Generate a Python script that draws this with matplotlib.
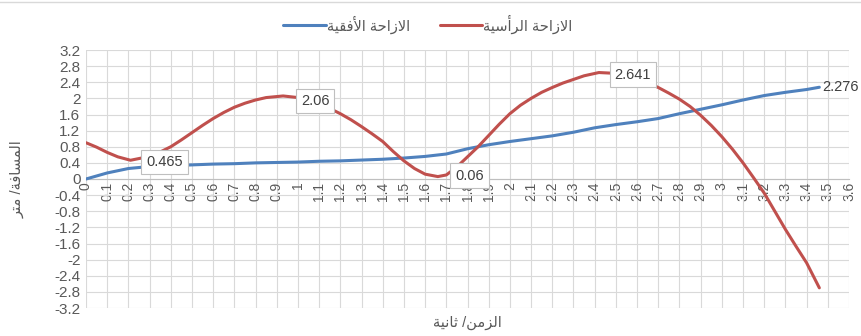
import numpy as np;
import matplotlib;
matplotlib.use('Agg');
import matplotlib.pyplot as plt;

FONT_SMALL = 10;
FONT_MEDIUM = 10.5;
FONT_BIG = 11;

WDTH = 861;
HGHT = 336;

GRAY_TXT = '#595959';
GRID_CLR = '#d9d9d9';
BLUE = '#4f81bd';
RED = '#c0504d';

# --- data ---
t_h = [0, 0.1, 0.2, 0.3, 0.4, 0.5, 0.6, 0.7, 0.8, 0.9, 1.0, 1.1, 1.2, 1.3, 1.4, 1.5, 1.6, 1.7,
       1.8, 1.9, 2.0, 2.1, 2.2, 2.3, 2.4, 2.5, 2.6, 2.7, 2.8, 2.9, 3.0, 3.1, 3.2, 3.3, 3.4, 3.46];
x_disp = [0, 0.15, 0.26, 0.31, 0.33, 0.35, 0.37, 0.38, 0.40, 0.41, 0.42, 0.44, 0.45, 0.47, 0.49, 0.52, 0.56, 0.62,
          0.75, 0.85, 0.93, 1.00, 1.07, 1.16, 1.27, 1.35, 1.42, 1.50, 1.62, 1.73, 1.84, 1.96, 2.07, 2.15, 2.22, 2.276];

t_v = [0, 0.05, 0.1, 0.15, 0.21, 0.3, 0.35, 0.4, 0.45, 0.5, 0.55, 0.6, 0.65, 0.7, 0.75, 0.8, 0.85, 0.93,
       1.0, 1.05, 1.1, 1.15, 1.2, 1.25, 1.3, 1.35, 1.4, 1.45, 1.5, 1.55, 1.6, 1.66, 1.7, 1.75,
       1.8, 1.85, 1.9, 1.95, 2.0, 2.05, 2.1, 2.15, 2.2, 2.25, 2.3, 2.35, 2.42, 2.5, 2.55, 2.6, 2.65,
       2.7, 2.75, 2.8, 2.85, 2.9, 2.95, 3.0, 3.05, 3.1, 3.15, 3.2, 3.25, 3.3, 3.35, 3.4, 3.46];
y_disp = [0.90, 0.79, 0.66, 0.55, 0.465, 0.56, 0.67, 0.80, 0.97, 1.15, 1.33, 1.50, 1.65, 1.78, 1.88, 1.96, 2.02, 2.06,
          2.02, 1.95, 1.86, 1.75, 1.62, 1.47, 1.30, 1.12, 0.93, 0.68, 0.45, 0.26, 0.12, 0.06, 0.10, 0.30,
          0.55, 0.80, 1.08, 1.36, 1.62, 1.83, 2.00, 2.15, 2.27, 2.38, 2.47, 2.56, 2.641, 2.62, 2.57, 2.50, 2.40,
          2.27, 2.13, 1.98, 1.80, 1.58, 1.33, 1.05, 0.74, 0.40, 0.03, -0.35, -0.80, -1.25, -1.67, -2.08, -2.70];

# labelled points (index into y_disp) and callout offsets in pixels
lbl_idx = [4, 17, 31, 46];
lbl_off = [(34, -2), (32, -5), (32, 1), (34, -2)];

x_ticks = [round(0.1 * i, 1) for i in range(37)];
x_tick_lbls = ['%g' % v for v in x_ticks];
y_ticks = [round(-3.2 + 0.4 * i, 1) for i in range(17)];
y_tick_lbls = ['%g' % v for v in y_ticks];

# --- minimal arabic shaping (matplotlib has no complex text layout) ---
FORMS = {
    'ا': ('\uFE8D', '\uFE8E', None, None),
    'أ': ('\uFE83', '\uFE84', None, None),
    'ة': ('\uFE93', '\uFE94', None, None),
    'ر': ('\uFEAD', '\uFEAE', None, None),
    'ز': ('\uFEAF', '\uFEB0', None, None),
    'ت': ('\uFE95', '\uFE96', '\uFE97', '\uFE98'),
    'ث': ('\uFE99', '\uFE9A', '\uFE9B', '\uFE9C'),
    'ح': ('\uFEA1', '\uFEA2', '\uFEA3', '\uFEA4'),
    'س': ('\uFEB1', '\uFEB2', '\uFEB3', '\uFEB4'),
    'ف': ('\uFED1', '\uFED2', '\uFED3', '\uFED4'),
    'ق': ('\uFED5', '\uFED6', '\uFED7', '\uFED8'),
    'ل': ('\uFEDD', '\uFEDE', '\uFEDF', '\uFEE0'),
    'م': ('\uFEE1', '\uFEE2', '\uFEE3', '\uFEE4'),
    'ن': ('\uFEE5', '\uFEE6', '\uFEE7', '\uFEE8'),
    'ي': ('\uFEF1', '\uFEF2', '\uFEF3', '\uFEF4'),
};
LAM_ALEF = {'ا': ('\uFEFB', '\uFEFC'), 'أ': ('\uFEF7', '\uFEF8')};


def ar(s):
    chars = [];
    i = 0;
    while i < len(s):
        if s[i] == 'ل' and i + 1 < len(s) and s[i + 1] in LAM_ALEF:
            chars.append(('LA', s[i + 1]));
            i = i + 2;
        else:
            chars.append(s[i]);
            i = i + 1;

    def joins_next(c):
        return (not isinstance(c, tuple)) and c in FORMS and FORMS[c][2] is not None;

    def is_letter(c):
        return isinstance(c, tuple) or c in FORMS;

    out = [];
    for k, c in enumerate(chars):
        prev = chars[k - 1] if k > 0 else None;
        nxt = chars[k + 1] if k + 1 < len(chars) else None;
        jp = prev is not None and joins_next(prev);
        jn = nxt is not None and is_letter(nxt) and joins_next(c);
        if isinstance(c, tuple):
            out.append(LAM_ALEF[c[1]][1 if jp else 0]);
        elif c in FORMS:
            iso, fin, ini, med = FORMS[c];
            if jp and jn:
                out.append(med);
            elif jp:
                out.append(fin);
            elif jn:
                out.append(ini);
            else:
                out.append(iso);
        else:
            out.append(c);
    return ''.join(out)[::-1];


plt.rcParams['font.family'] = ['Liberation Sans', 'DejaVu Sans'];

fig = plt.figure(figsize=(WDTH / 100, HGHT / 100), dpi=100);
ax = fig.add_axes([86 / WDTH, 1 - 308 / HGHT, 763 / WDTH, 258 / HGHT]);

ax.plot(t_h, x_disp, color=BLUE, lw=2.2, label=ar('الازاحة الأفقية'), solid_capstyle='round', solid_joinstyle='round', zorder=3);
ax.plot(t_v, y_disp, color=RED, lw=2.2, label=ar('الازاحة الرأسية'), solid_capstyle='round', solid_joinstyle='round', zorder=3);

ax.set_xlim(0, 3.6);
ax.set_ylim(-3.2, 3.2);
ax.set_xticks(x_ticks);
ax.set_xticklabels(x_tick_lbls);
ax.set_yticks(y_ticks);
ax.set_yticklabels(y_tick_lbls);
ax.tick_params(axis='x', length=0, pad=2, labelsize=FONT_SMALL, colors=GRAY_TXT, labelrotation=90);
ax.tick_params(axis='y', length=0, pad=4, labelsize=FONT_BIG, colors=GRAY_TXT);
ax.grid(True, color=GRID_CLR, lw=0.8, zorder=0);
ax.set_axisbelow(True);

for s in ['top', 'right', 'left']:
    ax.spines[s].set_visible(False);
ax.spines['bottom'].set_position(('data', 0));
ax.spines['bottom'].set_color('#bfbfbf');
ax.spines['bottom'].set_linewidth(0.8);

# callouts
for i, off in zip(lbl_idx, lbl_off):
    ax.annotate('%g' % y_disp[i], xy=(t_v[i], y_disp[i]), xytext=off, textcoords='offset pixels',
                ha='center', va='center', fontsize=FONT_MEDIUM, color='#404040', zorder=5,
                bbox=dict(boxstyle='square,pad=0.35', fc='white', ec='#bfbfbf', lw=0.8));

ax.annotate('%g' % x_disp[-1], xy=(t_h[-1], x_disp[-1]), xytext=(3, 0), textcoords='offset pixels',
            ha='left', va='center', fontsize=FONT_MEDIUM, color='#404040', annotation_clip=False);

ax.set_ylabel(ar('المسافة/ متر'), fontsize=FONT_MEDIUM, color=GRAY_TXT);
ax.yaxis.set_label_coords(-0.08, 0.5);
ax.set_xlabel(ar('الزمن/ ثانية'), fontsize=FONT_MEDIUM, color=GRAY_TXT);
ax.xaxis.set_label_coords(0.5, -0.03);

leg = fig.legend(loc='center', bbox_to_anchor=(428 / WDTH, 1 - 24 / HGHT), ncol=2, frameon=False,
                 fontsize=FONT_MEDIUM, handlelength=2.9, handletextpad=0.1, columnspacing=2.0);
for txt in leg.get_texts():
    txt.set_color(GRAY_TXT);

fig.add_artist(plt.Line2D([0, 1], [1 - 2 / HGHT, 1 - 2 / HGHT], transform=fig.transFigure, color=GRID_CLR, lw=1));

plt.savefig('out.png', dpi=100);
